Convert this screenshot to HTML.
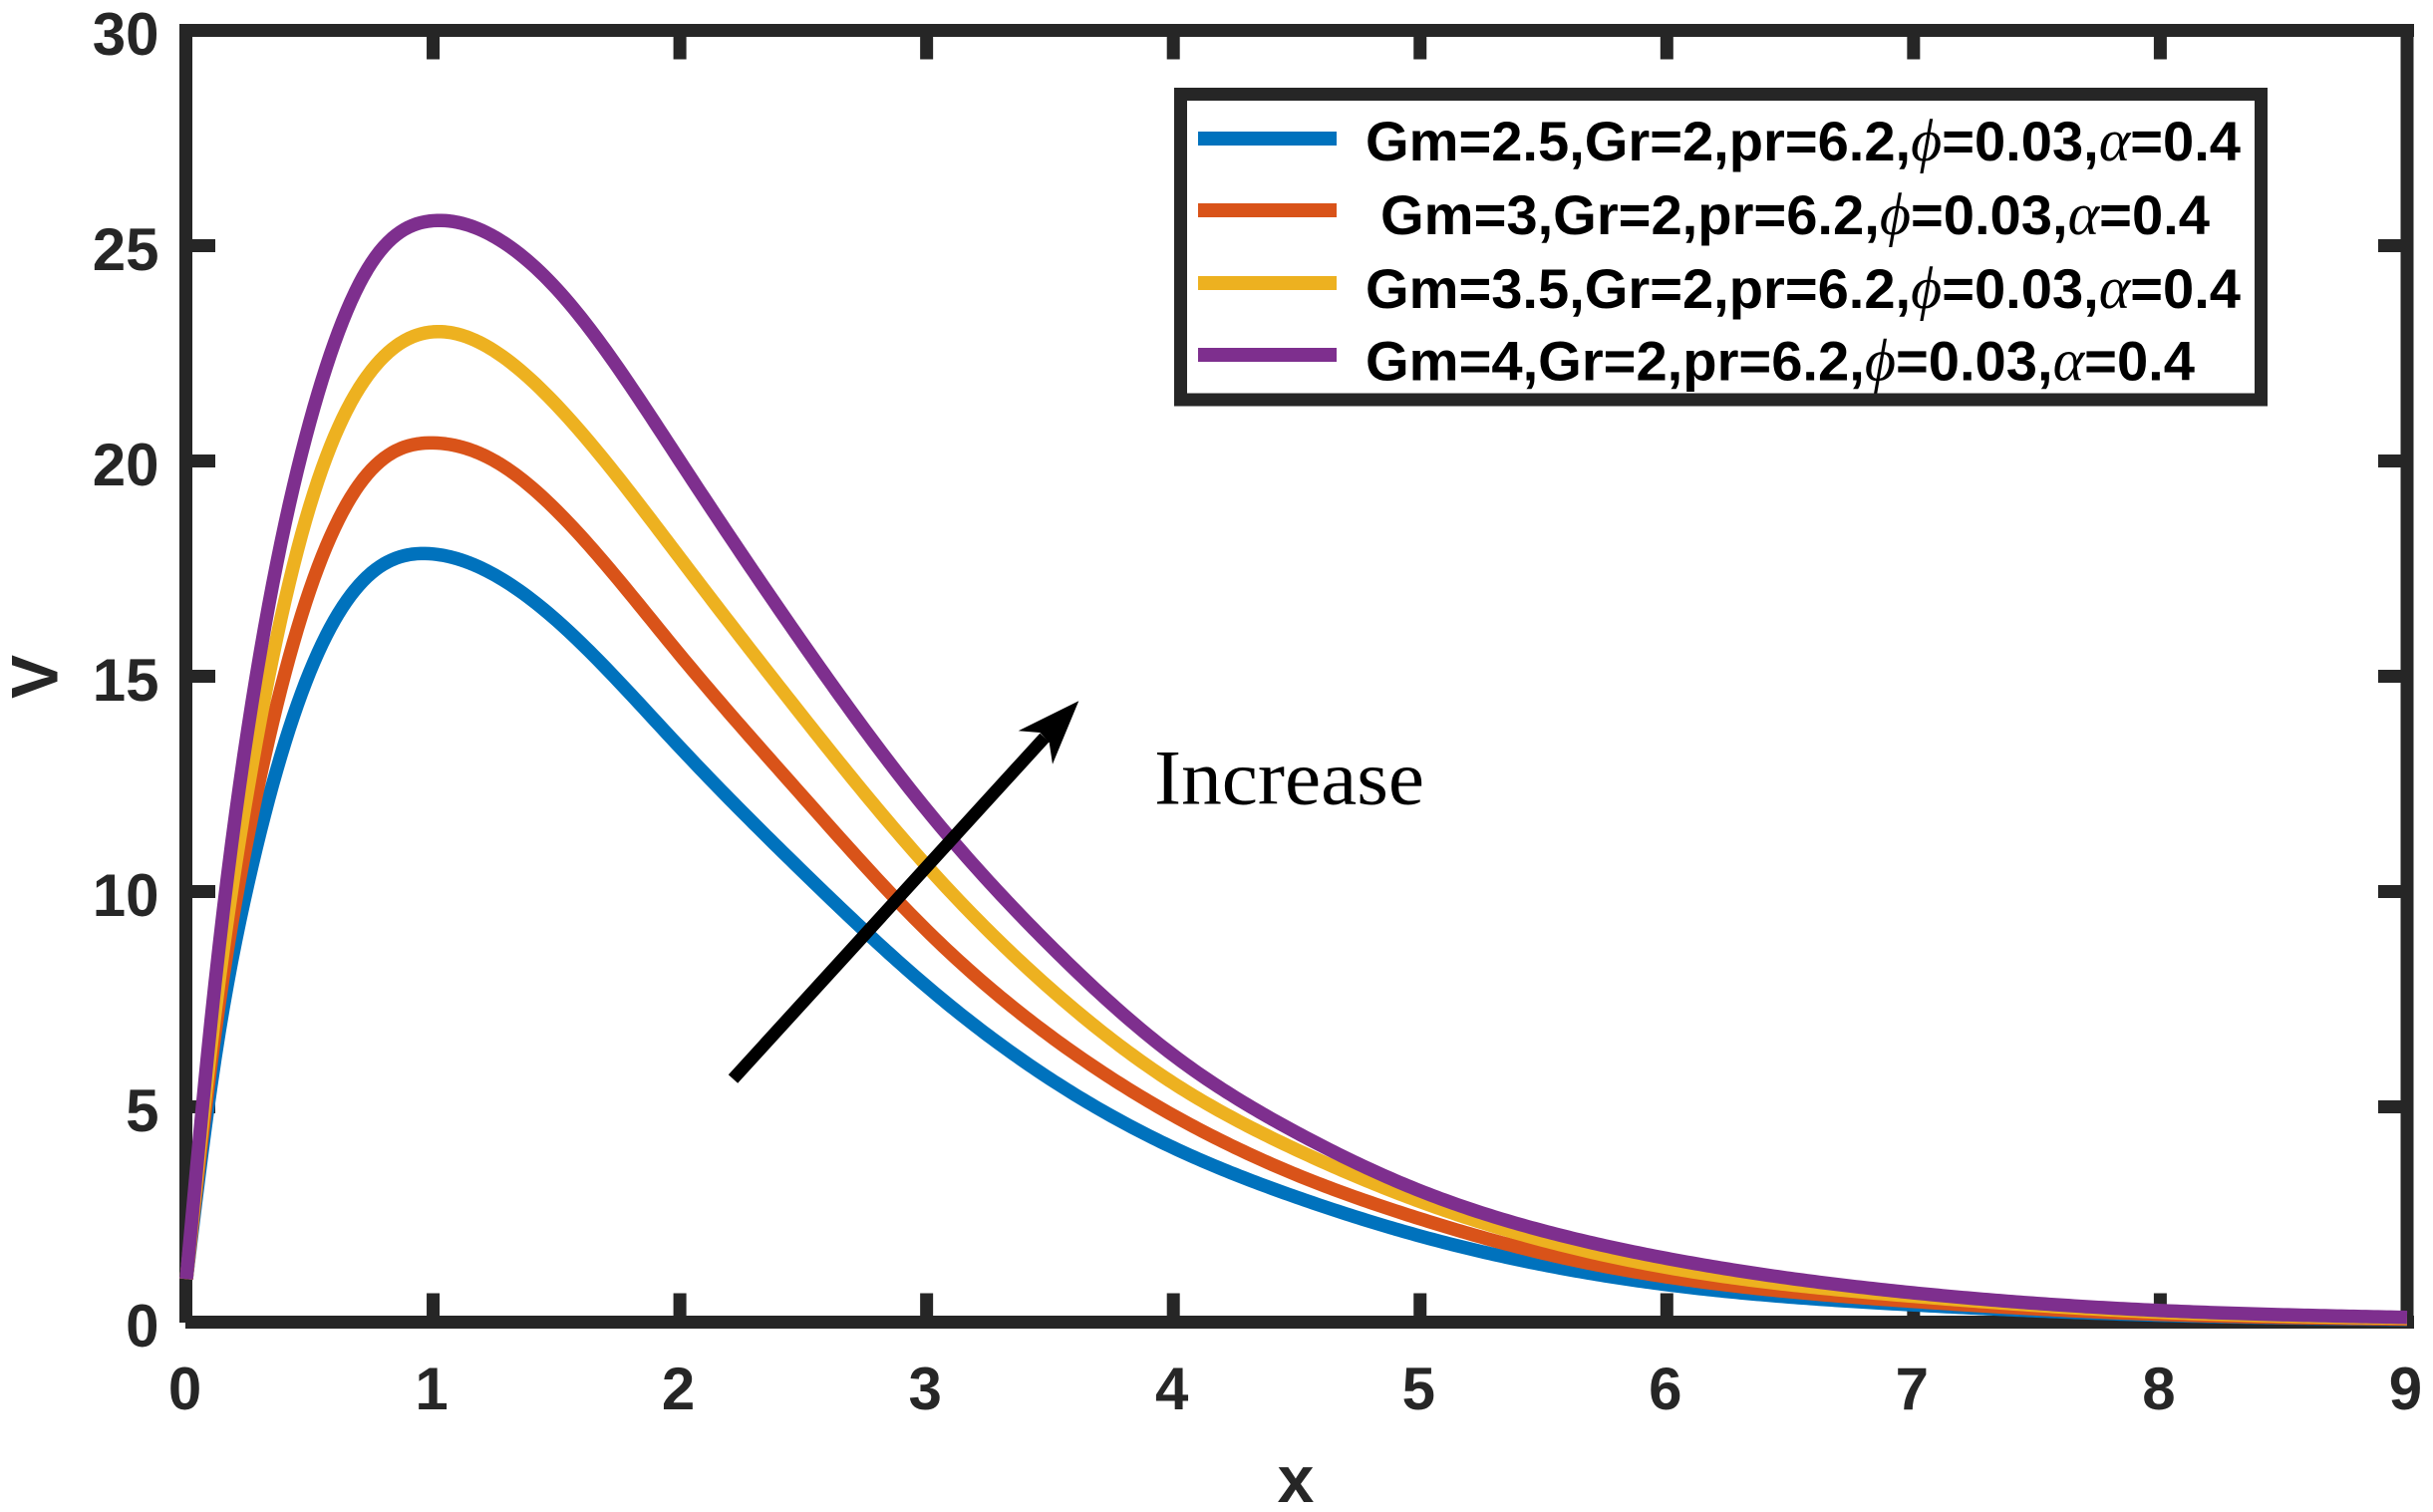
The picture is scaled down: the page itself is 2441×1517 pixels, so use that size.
<!DOCTYPE html>
<html lang="en">
<head>
<meta charset="utf-8">
<title>Velocity profile chart</title>
<style>
html,body{margin:0;padding:0;background:#fff}
svg{display:block}
.tick-label{font-family:"Liberation Sans",sans-serif;font-weight:700;font-size:60px;fill:#262626}
.axis-title{font-family:"Liberation Sans",sans-serif;font-weight:700;font-size:66px;fill:#262626}
.legend-text{font-family:"Liberation Sans",sans-serif;font-weight:700;font-size:56px;fill:#000}
.greek{font-family:"Liberation Serif",serif;font-style:italic;font-weight:400;font-size:60px}
.note{font-family:"Liberation Serif",serif;font-size:78px;fill:#000}
</style>
</head>
<body>
<svg id="chart" xmlns="http://www.w3.org/2000/svg" width="2441" height="1517" viewBox="0 0 2441 1517">
  <rect x="0" y="0" width="2441" height="1517" fill="#fff"/>
  <g id="ticks"></g>
  <g id="tickLabels"></g>
  <g stroke="#262626" stroke-width="13" fill="none">
    <line x1="186.5" y1="24" x2="186.5" y2="1327"/>
    <line x1="2415" y1="24" x2="2415" y2="1333"/>
    <line x1="180" y1="30.5" x2="2422" y2="30.5"/>
    <line x1="186" y1="1326.5" x2="2422" y2="1326.5"/>
  </g>
  <g id="series"></g>
  <text class="axis-title" x="1300" y="1507" text-anchor="middle">x</text>
  <text class="axis-title" transform="translate(57.5 679) rotate(-90)" text-anchor="middle">V</text>

  <g>
    <line x1="735.5" y1="1082.5" x2="1048" y2="740" stroke="#000" stroke-width="12.7"/>
    <polygon points="1082.3,703.3 1021.7,733.3 1043.3,735 1052.7,745 1056,766.7" fill="#000"/>
  </g>
  <text class="note" x="1158" y="806.7" textLength="271" lengthAdjust="spacingAndGlyphs">Increase</text>

  <g>
    <rect x="1184.5" y="94.5" width="1084" height="306.5" fill="#fff" stroke="#262626" stroke-width="13"/>
    <g>
      <line x1="1202" y1="139" x2="1341" y2="139" stroke="#0072BD" stroke-width="14"/>
      <text class="legend-text" x="1370" y="161" textLength="878" lengthAdjust="spacingAndGlyphs">Gm=2.5,Gr=2,pr=6.2,<tspan class="greek">ϕ</tspan>=0.03,<tspan class="greek">α</tspan>=0.4</text>
    </g>
    <g>
      <line x1="1202" y1="211" x2="1341" y2="211" stroke="#D95319" stroke-width="14"/>
      <text class="legend-text" x="1385" y="235" textLength="832" lengthAdjust="spacingAndGlyphs">Gm=3,Gr=2,pr=6.2,<tspan class="greek">ϕ</tspan>=0.03,<tspan class="greek">α</tspan>=0.4</text>
    </g>
    <g>
      <line x1="1202" y1="284" x2="1341" y2="284" stroke="#EDB120" stroke-width="14"/>
      <text class="legend-text" x="1370" y="309" textLength="878" lengthAdjust="spacingAndGlyphs">Gm=3.5,Gr=2,pr=6.2,<tspan class="greek">ϕ</tspan>=0.03,<tspan class="greek">α</tspan>=0.4</text>
    </g>
    <g>
      <line x1="1202" y1="356" x2="1341" y2="356" stroke="#7E2F8E" stroke-width="14"/>
      <text class="legend-text" x="1370" y="381.5" textLength="832" lengthAdjust="spacingAndGlyphs">Gm=4,Gr=2,pr=6.2,<tspan class="greek">ϕ</tspan>=0.03,<tspan class="greek">α</tspan>=0.4</text>
    </g>
  </g>
</svg>
<script>
const xValues = [0,0.1,0.25,0.5,0.75,1,1.25,1.5,2,2.5,3,3.5,4,4.5,5,5.5,6,7,8,9];
const gm25Values = [1,5.5,10.2,15.1,17.4,17.84,17.35,16.3,13.35,10.45,7.8,5.65,4.05,2.9,2,1.33,0.87,0.4,0.16,0.06];
const gm3Values = [1,6,11.3,17,19.8,20.42,20,18.85,15.5,12.2,9.1,6.65,4.8,3.42,2.4,1.6,1.05,0.48,0.18,0.07];
const gm35Values = [1,6.4,12.4,18.95,22.1,23,22.55,21.3,17.75,14.05,10.6,7.75,5.55,4,2.8,1.9,1.27,0.6,0.23,0.09];
const gm4Values = [1,7,13.8,20.9,24.6,25.58,25.2,24,20,15.75,11.9,8.75,6.2,4.4,3.05,2.12,1.48,0.68,0.27,0.11];
const xTickValues = [0,1,2,3,4,5,6,7,8,9];
const yTickValues = [0,5,10,15,20,25,30];

const NS = 'http://www.w3.org/2000/svg';
const xScale = v => 187 + v * 247.55;
const yScale = v => 1326.5 - v * 43.2;

function svgEl(tag, parent) {
  const el = document.createElementNS(NS, tag);
  parent.appendChild(el);
  return el;
}

function splineSecond(xs, ys) {
  const n = xs.length, u = new Array(n).fill(0), z = new Array(n).fill(0);
  for (let i = 1; i < n - 1; i++) {
    const sig = (xs[i] - xs[i - 1]) / (xs[i + 1] - xs[i - 1]);
    const p = sig * z[i - 1] + 2;
    z[i] = (sig - 1) / p;
    const d = (ys[i + 1] - ys[i]) / (xs[i + 1] - xs[i]) - (ys[i] - ys[i - 1]) / (xs[i] - xs[i - 1]);
    u[i] = (6 * d / (xs[i + 1] - xs[i - 1]) - sig * u[i - 1]) / p;
  }
  for (let i = n - 2; i >= 0; i--) z[i] = z[i] * z[i + 1] + u[i];
  return z;
}

function curvePath(xs, ys) {
  const z = splineSecond(xs, ys);
  let path = 'M' + xScale(xs[0]).toFixed(2) + ' ' + yScale(ys[0]).toFixed(2);
  for (let i = 0; i < xs.length - 1; i++) {
    const h = xs[i + 1] - xs[i];
    const steps = Math.max(8, Math.ceil(h * 60));
    for (let s = 1; s <= steps; s++) {
      const b = s / steps, a = 1 - b;
      const v = a * ys[i] + b * ys[i + 1] +
        ((a * a * a - a) * z[i] + (b * b * b - b) * z[i + 1]) * h * h / 6;
      const px = xs[i] + b * h;
      path += 'L' + xScale(px).toFixed(2) + ' ' + yScale(v).toFixed(2);
    }
  }
  return path;
}

const tickLayer = document.getElementById('ticks');
const labelLayer = document.getElementById('tickLabels');
const TICK = 29;

xTickValues.forEach(v => {
  const label = svgEl('text', labelLayer);
  
  
  label.setAttribute('class', 'tick-label');
  label.setAttribute('x', xScale(v) - 1.5);
  label.setAttribute('y', 1414);
  label.setAttribute('text-anchor', 'middle');
  label.textContent = v;
  if (v === xTickValues[0] || v === xTickValues[xTickValues.length - 1]) return;
  [[yScale(0), yScale(0) - TICK], [yScale(30), yScale(30) + TICK]].forEach(pair => {
    const t = svgEl('line', tickLayer);
    
    
    t.setAttribute('x1', xScale(v));
    t.setAttribute('x2', xScale(v));
    t.setAttribute('y1', pair[0]);
    t.setAttribute('y2', pair[1]);
    t.setAttribute('stroke', '#262626');
    t.setAttribute('stroke-width', '13');
  });
});

yTickValues.forEach(v => {
  const label = svgEl('text', labelLayer);
  
  
  label.setAttribute('class', 'tick-label');
  label.setAttribute('x', 159.5);
  label.setAttribute('y', yScale(v) + 24.5);
  label.setAttribute('text-anchor', 'end');
  label.textContent = v;
  if (v === yTickValues[0] || v === yTickValues[yTickValues.length - 1]) return;
  [[xScale(0), xScale(0) + TICK], [xScale(9), xScale(9) - TICK]].forEach(pair => {
    const t = svgEl('line', tickLayer);
    
    
    t.setAttribute('y1', yScale(v));
    t.setAttribute('y2', yScale(v));
    t.setAttribute('x1', pair[0]);
    t.setAttribute('x2', pair[1]);
    t.setAttribute('stroke', '#262626');
    t.setAttribute('stroke-width', '13');
  });
});

const seriesLayer = document.getElementById('series');

const lineGm25 = svgEl('path', seriesLayer);


lineGm25.setAttribute('d', curvePath(xValues, gm25Values));
lineGm25.setAttribute('stroke', '#0072BD');

const lineGm3 = svgEl('path', seriesLayer);


lineGm3.setAttribute('d', curvePath(xValues, gm3Values));
lineGm3.setAttribute('stroke', '#D95319');

const lineGm35 = svgEl('path', seriesLayer);


lineGm35.setAttribute('d', curvePath(xValues, gm35Values));
lineGm35.setAttribute('stroke', '#EDB120');

const lineGm4 = svgEl('path', seriesLayer);


lineGm4.setAttribute('d', curvePath(xValues, gm4Values));
lineGm4.setAttribute('stroke', '#7E2F8E');

[lineGm25, lineGm3, lineGm35, lineGm4].forEach(p => {
  p.setAttribute('fill', 'none');
  p.setAttribute('stroke-width', '13.5');
  p.setAttribute('stroke-linejoin', 'round');
});
</script>
</body>
</html>
